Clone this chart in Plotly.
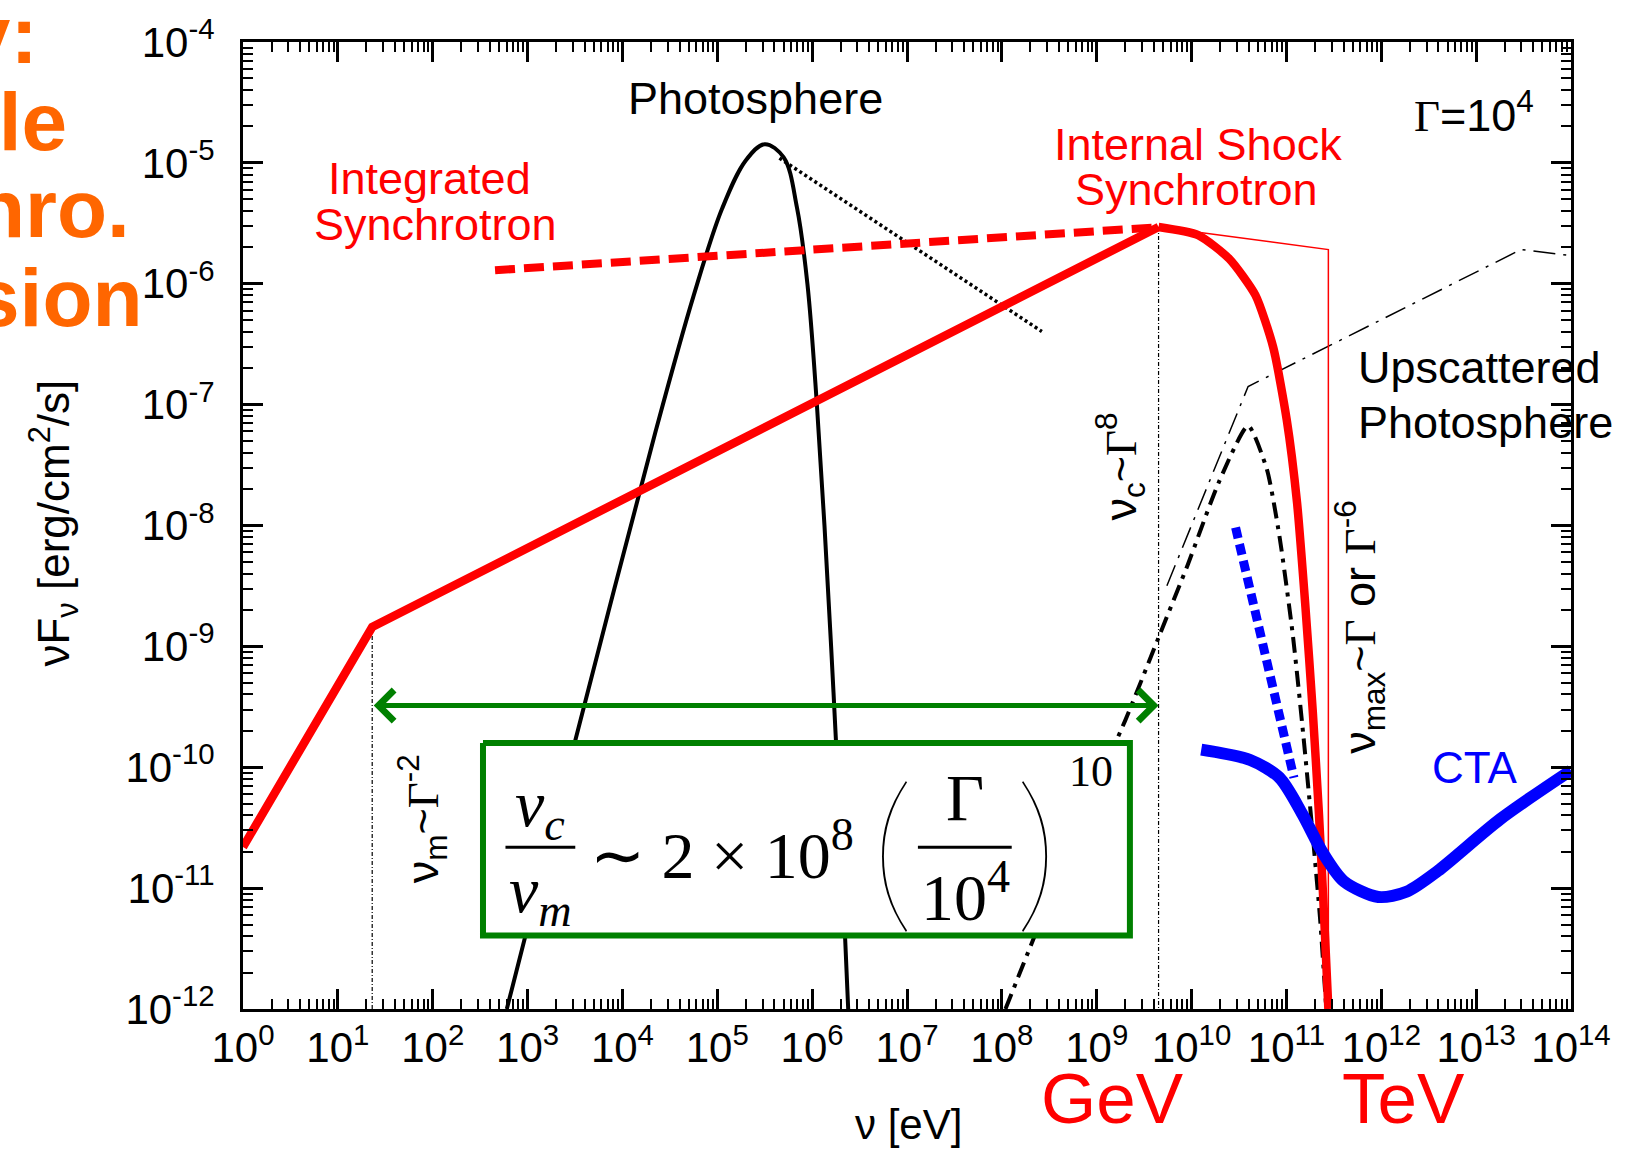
import plotly.graph_objects as go

# ---------------- axis ticks ----------------
x_tick_exp = list(range(0, 15))
y_tick_exp = list(range(-12, -3))
x_tick_text = [f"10<sup>{e}</sup>" for e in x_tick_exp]
y_tick_text = [f"10<sup>{e}</sup>" for e in y_tick_exp]

# ---------------- spectra (log10 nu [eV], log10 nuFnu [erg/cm2/s]) ----------------
# internal-shock synchrotron: broken power law up to nu_c
sync_lognu = [0.0, 1.362, 9.652]
sync_logf = [-10.66, -8.84, -5.53]
# internal-shock synchrotron: high-energy cutoff
cut_lognu = [9.652, 10.069, 10.398, 10.673, 10.860, 11.003, 11.112, 11.200, 11.277, 11.343, 11.398, 11.442]
cut_logf = [-5.530, -5.597, -5.794, -6.094, -6.524, -7.124, -7.811, -8.670, -9.528, -10.386, -11.245, -12.0]
# sharp cutoff at nu_max
max_lognu = [9.652, 11.442, 11.442]
max_logf = [-5.530, -5.717, -12.0]
# integrated synchrotron
integ_lognu = [2.657, 9.60]
integ_logf = [-5.888, -5.535]
# photosphere
photo_lognu = [2.781, 3.30, 3.85, 4.35, 4.75, 5.05, 5.30, 5.50,
               5.70, 5.84, 5.95, 6.05, 6.13, 6.20, 6.265, 6.325, 6.38]
photo_logf = [-12.0, -10.40, -8.72, -7.22, -6.10, -5.38, -4.98, -4.845,
              -4.955, -5.37, -6.00, -7.00, -8.00, -9.00, -10.00, -11.00, -12.0]
# photosphere high-energy tail
tail_lognu = [5.655, 8.422]
tail_logf = [-4.961, -6.395]
# upscattered photosphere
ups_lognu = [8.038, 8.422, 8.861, 9.300, 9.652, 9.959, 10.289, 10.596, 10.794, 10.926, 11.068, 11.178, 11.277, 11.354, 11.420]
ups_logf = [-12.0, -11.245, -10.386, -9.614, -8.927, -8.326, -7.639, -7.176, -7.536, -8.086, -8.910, -9.734, -10.558, -11.245, -12.0]
# upscattered photosphere without absorption
upsenv_lognu = [9.74, 10.596, 13.473, 14.0]
upsenv_logf = [-8.498, -6.850, -5.717, -5.768]
# CTA sensitivity
cta_lognu = [10.102, 10.618, 10.926, 11.167, 11.387, 11.606, 11.969, 12.265, 12.595, 13.254, 14.0]
cta_logf = [-9.854, -9.940, -10.086, -10.386, -10.712, -10.944, -11.073, -11.030, -10.858, -10.429, -10.026]
cta2_lognu = [10.464, 11.079]
cta2_logf = [-8.017, -10.086]

# characteristic frequencies
nu_m_log = 1.362
nu_c_log = 9.652
arrow_logf = -9.49

# formula box corners
box_lognu = [2.530, 9.350]
box_logf = [-9.800, -11.391]

RED = "#ff0000"
BLUE = "#0000ff"
GREEN = "#008000"
ORANGE = "#ff6600"
SANS = "Liberation Sans"
SERIF = "Liberation Serif"


def p(v):
    return [10 ** a for a in v]


fig = go.Figure()


def line(xs, ys, color, width, dash="solid", shape="linear", smoothing=1.0):
    fig.add_trace(go.Scatter(
        x=p(xs), y=p(ys), mode="lines",
        line=dict(color=color, width=width, dash=dash, shape=shape,
                  smoothing=smoothing if shape == "spline" else None),
        hoverinfo="skip", showlegend=False))


# vertical markers for nu_m and nu_c
line([nu_m_log, nu_m_log], [sync_logf[1], -12], "black", 1.2, "4px,2px,1px,2px")
line([nu_c_log, nu_c_log], [sync_logf[2], -12], "black", 1.2, "4px,2px,1px,2px")

line(photo_lognu, photo_logf, "black", 4, shape="spline", smoothing=1.0)
line(tail_lognu, tail_logf, "black", 3.5, "3px,3px")
line(upsenv_lognu, upsenv_logf, "black", 1.5, "22px,8px,3px,8px")
line(ups_lognu, ups_logf, "black", 4, "16px,7px,4px,7px", shape="spline", smoothing=0.6)
line(max_lognu, max_logf, RED, 1.5)
line(integ_lognu, integ_logf, RED, 8, "20px,9px")
line(sync_lognu, sync_logf, RED, 8.5)
line(cut_lognu, cut_logf, RED, 8.5, shape="spline", smoothing=0.6)
line(cta2_lognu, cta2_logf, BLUE, 9, "11px,6px")
line(cta_lognu, cta_logf, BLUE, 12, shape="spline", smoothing=0.8)

# formula box
bx = [box_lognu[0], box_lognu[1], box_lognu[1], box_lognu[0], box_lognu[0]]
by = [box_logf[0], box_logf[0], box_logf[1], box_logf[1], box_logf[0]]
fig.add_trace(go.Scatter(x=p(bx), y=p(by), mode="lines", fill="toself",
                         fillcolor="white", line=dict(color=GREEN, width=6),
                         hoverinfo="skip", showlegend=False))
# fraction bars
line([2.767, 3.503], [-10.661, -10.661], "black", 3)
line([7.115, 8.104], [-10.661, -10.661], "black", 3)

ann = []


def text(x, y, s, size, color="black", family=SANS, angle=0, xanchor="center",
         yanchor="middle", xref="x", yref="y", weight=None):
    font = dict(size=size, color=color, family=family)
    if weight is not None:
        font["weight"] = weight
    ann.append(dict(x=x, y=y, text=s, xref=xref, yref=yref, showarrow=False,
                    font=font, textangle=angle, xanchor=xanchor, yanchor=yanchor))


# spectral labels
text(5.402, -4.47, "Photosphere", 45)
text(1.966, -5.133, "Integrated", 45, RED)
text(2.031, -5.511, "Synchrotron", 45, RED)
text(10.069, -4.850, "Internal Shock", 45, RED)
text(10.047, -5.219, "Synchrotron", 45, RED)
text(12.979, -4.575, f"<span style='font-family:{SERIF}'>Γ</span>=10<sup>4</sup>", 45)
text(11.738, -6.695, "Upscattered", 45, xanchor="left")
text(11.738, -7.150, "Photosphere", 45, xanchor="left")
text(12.979, -10.0, "CTA", 44, BLUE)
GAM = f"<span style='font-family:{SERIF}'>Γ</span>"
text(9.246, -7.511, f"ν<sub>c</sub>~{GAM}<sup>8</sup>", 45, angle=-90)
text(1.889, -10.429, f"ν<sub>m</sub>~{GAM}<sup>-2</sup>", 45, angle=-90)
text(11.771, -8.841, f"ν<sub>max</sub>~{GAM} or {GAM}<sup>-6</sup>", 45, angle=-90)

# formula inside the box
text(3.135, -10.343, "<i>ν<sub>c</sub></i>", 66, family=SERIF)
text(3.135, -11.056, "<i>ν<sub>m</sub></i>", 66, family=SERIF)
text(5.051, -10.687, "∼ 2 × 10<sup>8</sup>", 66, family=SERIF)
text(6.852, -10.640, "(", 172, family="Lato", weight=100)
text(7.615, -10.249, "Γ", 66, family=SERIF)
text(7.615, -11.040, "10<sup>4</sup>", 66, family=SERIF)
text(8.367, -10.640, ")", 172, family="Lato", weight=100)
text(8.938, -10.039, "10", 44, family=SERIF)

# energy markers under the axis
text(9.169, -0.0926, "GeV", 71, RED, xref="x", yref="paper")
text(12.232, -0.0926, "TeV", 71, RED, xref="x", yref="paper")

# axis titles
text(-0.1423, 0.502, "νF<sub>ν</sub> [erg/cm<sup>2</sup>/s]", 44, angle=-90,
     xref="paper", yref="paper")
text(0.5015, -0.119, "ν [eV]", 42, xref="paper", yref="paper")

# headline words at the left edge
for word, xr, yb in [("Key:", 40, 77), ("Single", 69, 165), ("Synchro.", 132, 252),
                     ("Emission", 145, 342)]:
    text((xr - 243) / 1328, (1009 - yb) / 972, f"<b>{word}</b>", 82, ORANGE,
         family=SANS, xanchor="right", yanchor="bottom",
         xref="paper", yref="paper")

# double arrow between nu_m and nu_c
ann.append(dict(x=nu_c_log, y=arrow_logf, ax=nu_m_log, ay=arrow_logf,
                xref="x", yref="y", axref="x", ayref="y", text="",
                showarrow=True, arrowside="end+start", arrowhead=4,
                startarrowhead=4, arrowsize=1.2, startarrowsize=1.2,
                arrowwidth=5, arrowcolor=GREEN, standoff=0, startstandoff=0))

axis_common = dict(
    type="log", showgrid=False, zeroline=False, showline=True, linecolor="black",
    linewidth=3, mirror="allticks", ticks="inside", ticklen=20, tickwidth=3,
    tickcolor="black", tickfont=dict(family=SANS, size=42, color="black"),
    minor=dict(ticks="inside", ticklen=10, tickwidth=2, tickcolor="black",
               dtick="D1", showgrid=False),
)

fig.update_layout(
    width=1634, height=1152,
    margin=dict(l=243, r=63, t=37, b=143),
    paper_bgcolor="white", plot_bgcolor="white",
    annotations=ann,
    xaxis=dict(axis_common, range=[0, 14], tickmode="array",
               tickvals=[10 ** e for e in x_tick_exp], ticktext=x_tick_text),
    yaxis=dict(axis_common, range=[-12, -4], tickmode="array",
               tickvals=[10 ** e for e in y_tick_exp], ticktext=y_tick_text,
               ticklabelstandoff=17),
)

fig.write_html("out.html")
